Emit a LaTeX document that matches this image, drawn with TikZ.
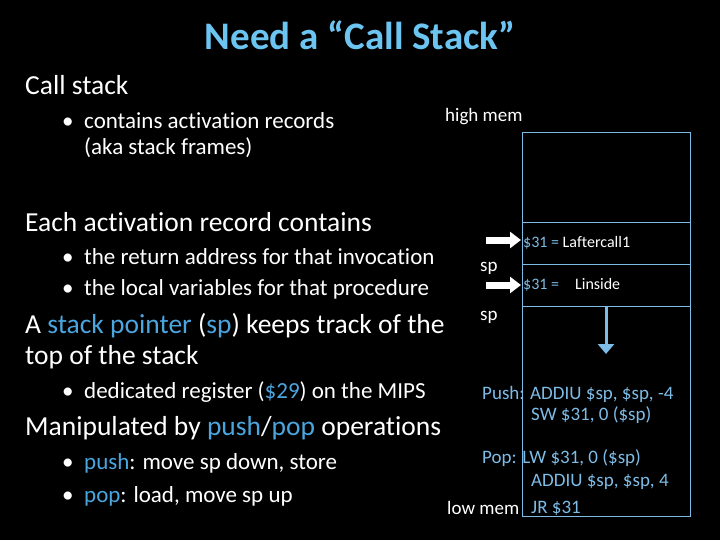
\documentclass[tikz,border=0pt]{standalone}
\usepackage{fontspec}
\setmainfont[Ligatures=NoCommon]{Carlito}
\usetikzlibrary{arrows.meta}
\definecolor{ttl}{HTML}{6CC4F0}
\definecolor{kw}{HTML}{4BA6E0}
\definecolor{code}{HTML}{7DBCE6}
\newcommand{\bul}{\makebox[22pt][l]{•}}
\tikzset{
  txt/.style={anchor=west,inner sep=0,text=white},
  big/.style={txt,font=\fontsize{27.5}{30}\selectfont},
  mid/.style={txt,font=\fontsize{23}{25}\selectfont},
  sm/.style={txt,font=\fontsize{19}{21}\selectfont},
  cd/.style={txt,text=code,font=\fontsize{19}{21}\selectfont},
  cell/.style={txt,font=\fontsize{16}{18}\selectfont},
  boxline/.style={draw=code,line width=0.8pt},
  wharrow/.style={-{Triangle[length=11pt,width=16pt]},white,line width=7pt}
}
\begin{document}
\begin{tikzpicture}[x=1pt,y=-1pt]
\fill[black] (0,0) rectangle (720,540);
\useasboundingbox (0,0) rectangle (720,540);
\node[font=\fontsize{39}{41}\selectfont\bfseries,text=ttl,inner sep=0] (title) at (360,35) {Need a “Call Stack”};
\node[big] (cs) at (25,85) {Call stack};
\node[mid] (b1) at (62,121) {\bul contains activation records};
\node[mid] (b1b) at (84,148) {(aka stack frames)};
\node[sm] (hm) at (445,117) {high mem};
\node[big] (ea) at (25,222) {Each activation record contains};
\node[mid] (b2) at (62,257) {\bul the return address for that invocation};
\node[mid] (b3) at (62,289) {\bul the local variables for that procedure};
\node[big] (sp1) at (25,326) {A \textcolor{kw}{stack pointer} (\textcolor{kw}{sp}) keeps track of the};
\node[big] (sp2) at (25,357) {top of the stack};
\node[mid] (b4) at (62,392) {\bul dedicated register (\textcolor{kw}{\$29}) on the MIPS};
\node[big] (mp) at (25,428) {Manipulated by \textcolor{kw}{push}/\textcolor{kw}{pop} operations};
\node[mid] (b5) at (62,463) {\bul \textcolor{kw}{push}: move sp down, store};
\node[mid] (b6) at (62,496) {\bul \textcolor{kw}{pop}: load, move sp up};
% stack box
\node[boxline,minimum width=168pt,minimum height=384pt,inner sep=0] (box) at (606,324) {};
\coordinate (l1a) at (522,222); \coordinate (l1b) at (690,222);
\coordinate (l2a) at (522,264); \coordinate (l2b) at (690,264);
\coordinate (l3a) at (522,306); \coordinate (l3b) at (690,306);
\draw[boxline] (l1a) -- (l1b);
\draw[boxline] (l2a) -- (l2b);
\draw[boxline] (l3a) -- (l3b);
\node[cell] (c1) at (523,243) {\textcolor{code}{\$31 =} Laftercall1};
\node[cell] (c2) at (523,285) {\textcolor{code}{\$31 =}\hspace{16pt}Linside};
\coordinate (a1s) at (486,240); \coordinate (a1e) at (521,240);
\coordinate (a2s) at (486,285); \coordinate (a2e) at (521,285);
\draw[wharrow] (a1s) -- (a1e);
\draw[wharrow] (a2s) -- (a2e);
\node[sm] (spa) at (480,268) {sp};
\node[sm] (spb) at (480,317) {sp};
\coordinate (ba1) at (606,306); \coordinate (ba2) at (606,354);
\draw[-{Triangle[length=10pt,width=16pt]},draw=code,fill=code,line width=3pt] (ba1) -- (ba2);
\node[cd] (p1) at (482,394) {Push: ADDIU \$sp, \$sp, -4};
\node[cd] (p2) at (531,415) {SW \$31, 0 (\$sp)};
\node[cd] (p3) at (482,458) {Pop: LW \$31, 0 (\$sp)};
\node[cd] (p4) at (531,482) {ADDIU \$sp, \$sp, 4};
\node[sm] (lm) at (447,508) {low mem};
\node[cd] (p5) at (531,508) {JR \$31};
\end{tikzpicture}
\end{document}
